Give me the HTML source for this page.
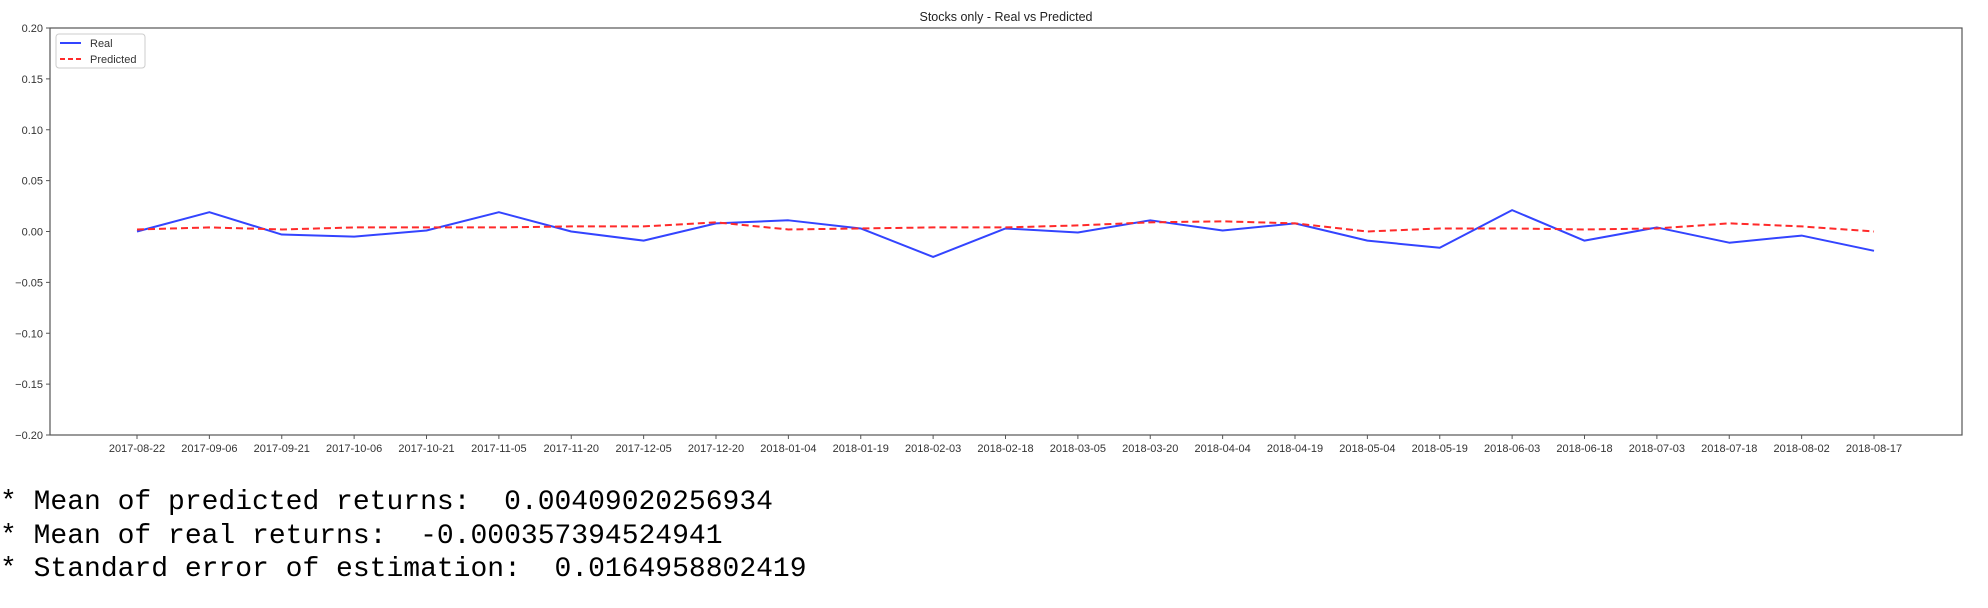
<!DOCTYPE html>
<html><head><meta charset="utf-8"><style>
body{margin:0;background:#fff;width:1988px;height:608px;overflow:hidden}
svg{position:absolute;left:0;top:0}
.stats{position:absolute;left:0;top:486px;font-family:"Liberation Mono",monospace;font-size:28px;line-height:33.5px;color:#000;white-space:pre}
</style></head><body>
<svg id="chart" width="1988" height="470" font-family="Liberation Sans, sans-serif"></svg>
<div class="stats"><div>* Mean of predicted returns:  0.00409020256934</div><div>* Mean of real returns:  -0.000357394524941</div><div>* Standard error of estimation:  0.0164958802419</div></div>
<script>
const dates=["2017-08-22","2017-09-06","2017-09-21","2017-10-06","2017-10-21","2017-11-05","2017-11-20","2017-12-05","2017-12-20","2018-01-04","2018-01-19","2018-02-03","2018-02-18","2018-03-05","2018-03-20","2018-04-04","2018-04-19","2018-05-04","2018-05-19","2018-06-03","2018-06-18","2018-07-03","2018-07-18","2018-08-02","2018-08-17"];
const realValues=[0.000,0.019,-0.003,-0.005,0.001,0.019,0.000,-0.009,0.008,0.011,0.003,-0.025,0.003,-0.001,0.011,0.001,0.008,-0.009,-0.016,0.021,-0.009,0.004,-0.011,-0.004,-0.019];
const predictedValues=[0.002,0.004,0.002,0.004,0.004,0.004,0.005,0.005,0.009,0.002,0.003,0.004,0.004,0.006,0.009,0.010,0.008,0.000,0.003,0.003,0.002,0.003,0.008,0.005,0.000];
const yTicks=["0.20","0.15","0.10","0.05","0.00","−0.05","−0.10","−0.15","−0.20"];
const yTickValues=[0.2,0.15,0.1,0.05,0,-0.05,-0.1,-0.15,-0.2];

const svg=document.getElementById('chart');
const NS='http://www.w3.org/2000/svg';
const L=50,R=1962,T=28,B=435;
const x=i=>137+i*(1874-137)/(dates.length-1);
const y=v=>T+(0.2-v)/0.4*(B-T);
function mk(tag,attrs){const e=document.createElementNS(NS,tag);for(const k in attrs)e.setAttribute(k,attrs[k]);svg.appendChild(e);return e;}

let t=mk('text',{x:(L+R)/2,y:21,'text-anchor':'middle','font-size':12.5,fill:'#222'});t.textContent='Stocks only - Real vs Predicted';



let fr=mk('rect',{x:L,y:T,width:R-L,height:B-T,fill:'none',stroke:'#555','stroke-width':1.2});



yTickValues.forEach((v,i)=>{
  const yy=y(v);
  const tk=mk('line',{x1:L-4,x2:L,y1:yy,y2:yy,stroke:'#555'});
  
  
  const lb=mk('text',{x:L-7,y:yy+4,'text-anchor':'end','font-size':11,fill:'#333'});
  lb.textContent=yTicks[i];
  
  
});
dates.forEach((d,i)=>{
  const xx=x(i);
  const tk=mk('line',{x1:xx,x2:xx,y1:B,y2:B+4,stroke:'#555'});
  
  
  const lb=mk('text',{x:xx,y:B+17,'text-anchor':'middle','font-size':11,fill:'#333'});
  lb.textContent=d;
  
  
});
const pts=a=>a.map((v,i)=>x(i)+','+y(v)).join(' ');
const real=mk('polyline',{points:pts(realValues),fill:'none',stroke:'#3344ff','stroke-width':2,'stroke-linejoin':'round'});


const pred=mk('polyline',{points:pts(predictedValues),fill:'none',stroke:'#ff2a2a','stroke-width':2,'stroke-dasharray':'7,4'});



const lg=mk('rect',{x:56,y:34,width:89,height:34,rx:3,fill:'#fff',stroke:'#ccc'});


const l1=mk('line',{x1:60,x2:81,y1:43,y2:43,stroke:'#3344ff','stroke-width':2});


const t1=mk('text',{x:90,y:47,'font-size':11,fill:'#333'});t1.textContent='Real';


const l2=mk('line',{x1:60,x2:81,y1:59,y2:59,stroke:'#ff2a2a','stroke-width':2,'stroke-dasharray':'5,3'});


const t2=mk('text',{x:90,y:63,'font-size':11,fill:'#333'});t2.textContent='Predicted';


</script>
</body></html>
